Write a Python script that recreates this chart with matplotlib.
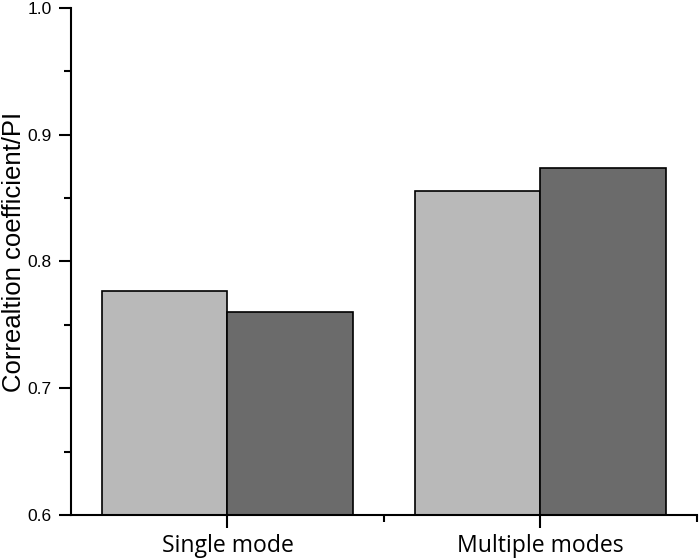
import matplotlib
matplotlib.use('Agg')
import matplotlib.pyplot as plt
import numpy as np
from matplotlib.ticker import FixedLocator

categories = ['Single mode', 'Multiple modes']
series_a = [0.777, 0.856]
series_b = [0.760, 0.874]
y_ticks = [0.6, 0.7, 0.8, 0.9, 1.0]
y_minor = [0.65, 0.75, 0.85, 0.95]

fig = plt.figure(figsize=(7, 5.6), dpi=100)
ax = fig.add_axes([0.1014, 0.0804, 0.8943, 0.9053])

x = np.arange(len(categories))
w = 0.4
ax.bar(x - w / 2, series_a, w, color='#b9b9b9', edgecolor='black', linewidth=1.2)
ax.bar(x + w / 2, series_b, w, color='#6b6b6b', edgecolor='black', linewidth=1.2)

ax.set_xlim(-0.5, 1.5)
ax.set_ylim(0.6, 1.0)
ax.set_xticks(x)
ax.set_xticklabels(categories)
ax.xaxis.set_minor_locator(FixedLocator([0.5, 1.5]))
ax.set_yticks(y_ticks)
ax.set_yticklabels([f'{v:.1f}' for v in y_ticks])
ax.yaxis.set_minor_locator(FixedLocator(y_minor))

for s in ['top', 'right']:
    ax.spines[s].set_visible(False)
for s in ['left', 'bottom']:
    ax.spines[s].set_linewidth(1.5)

ax.tick_params(which='major', direction='out', length=9, width=1.5)
ax.tick_params(which='minor', direction='out', length=5, width=1.5)
ax.tick_params(axis='y', which='major', pad=5, labelsize=12.5)
ax.tick_params(axis='x', which='major', pad=4.5, labelsize=16.6)

for lab in ax.get_yticklabels():
    lab.set_fontfamily(['Liberation Sans', 'DejaVu Sans'])
for lab in ax.get_xticklabels():
    lab.set_fontfamily(['Open Sans', 'DejaVu Sans'])

ax.set_ylabel('Correaltion coefficient/PI', fontsize=18.5,
              family=['Liberation Sans', 'DejaVu Sans'])
ax.yaxis.set_label_coords(-0.0716, 0.518)

fig.savefig('out.png', dpi=100)
